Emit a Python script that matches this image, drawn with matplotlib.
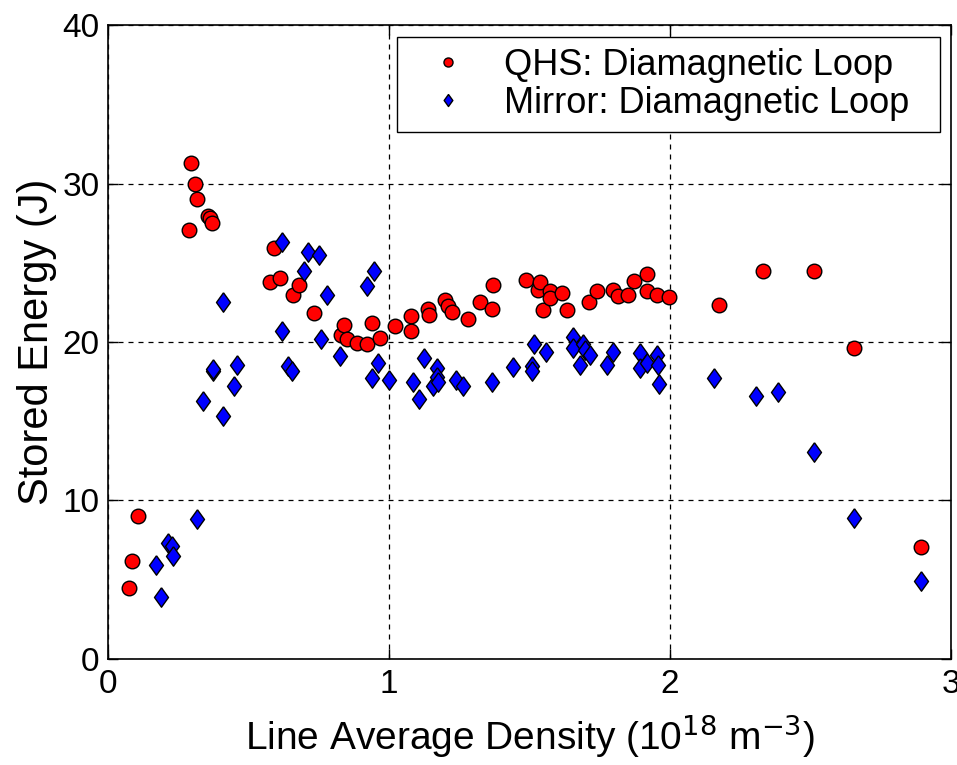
import numpy as np
import matplotlib
matplotlib.use('Agg')
import matplotlib.pyplot as plt

plt.rcParams['font.family'] = ['Liberation Sans', 'DejaVu Sans']

# QHS: diamagnetic loop
qhs_density = [0.075, 0.087, 0.108, 0.288, 0.294, 0.31, 0.316, 0.355, 0.362, 0.369,
               0.577, 0.592, 0.612, 0.657, 0.68, 0.733, 0.828, 0.84, 0.85, 0.885,
               0.92, 0.938, 0.968, 1.021, 1.08, 1.08, 1.14, 1.143, 1.2, 1.21,
               1.223, 1.282, 1.324, 1.365, 1.371, 1.486, 1.53, 1.537, 1.549, 1.573,
               1.573, 1.614, 1.632, 1.712, 1.739, 1.798, 1.816, 1.852, 1.873, 1.917,
               1.917, 1.952, 1.997, 2.176, 2.332, 2.512, 2.655, 2.893]
qhs_energy = [4.5, 6.2, 9.04, 27.07, 31.3, 30.0, 29.0, 27.95, 27.8, 27.5,
              23.8, 25.9, 24.06, 22.97, 23.6, 21.8, 20.44, 21.1, 20.2, 19.96,
              19.87, 21.2, 20.25, 21.03, 20.7, 21.66, 22.08, 21.7, 22.65, 22.3,
              21.87, 21.43, 22.54, 22.1, 23.6, 23.9, 23.3, 23.8, 22.0, 23.2,
              22.76, 23.07, 22.0, 22.5, 23.24, 23.28, 22.9, 22.96, 23.85, 24.3,
              23.24, 22.96, 22.86, 22.35, 24.49, 24.49, 19.6, 7.08]

# Mirror: diamagnetic loop
mirror_density = [0.17, 0.189, 0.215, 0.227, 0.23, 0.316, 0.337, 0.372, 0.375, 0.41,
                  0.41, 0.45, 0.458, 0.618, 0.618, 0.642, 0.654, 0.699, 0.713, 0.752,
                  0.758, 0.778, 0.826, 0.92, 0.94, 0.947, 0.962, 1.0, 1.087, 1.107,
                  1.126, 1.158, 1.17, 1.17, 1.176, 1.24, 1.264, 1.365, 1.442, 1.508,
                  1.508, 1.516, 1.558, 1.656, 1.656, 1.68, 1.691, 1.697, 1.715, 1.775,
                  1.798, 1.893, 1.893, 1.917, 1.952, 1.958, 1.96, 2.156, 2.305, 2.385,
                  2.514, 2.655, 2.893]
mirror_energy = [5.93, 3.93, 7.3, 7.1, 6.5, 8.81, 16.3, 18.2, 18.3, 22.5,
                 15.3, 17.2, 18.55, 26.3, 20.7, 18.5, 18.2, 24.5, 25.7, 25.5,
                 20.2, 22.97, 19.1, 23.55, 17.75, 24.5, 18.7, 17.6, 17.5, 16.38,
                 18.97, 17.2, 18.34, 17.8, 17.5, 17.6, 17.2, 17.5, 18.44, 18.49,
                 18.19, 19.9, 19.39, 20.33, 19.6, 18.55, 19.87, 19.5, 19.18, 18.55,
                 19.39, 19.29, 18.34, 18.66, 19.18, 18.55, 17.35, 17.7, 16.6, 16.85,
                 13.07, 8.9, 4.92]

x_ticks = [0, 1, 2, 3]
y_ticks = [0, 10, 20, 30, 40]

# MATLAB-like diamond, a bit wider than matplotlib's 'd'
diamond = [(0, 1), (0.72, 0), (0, -1), (-0.72, 0), (0, 1)]

fig = plt.figure(figsize=(9.57, 7.65), dpi=100)
ax = fig.add_axes([0.1129, 0.1386, 0.8808, 0.8287])

ax.plot(qhs_density, qhs_energy, 'o', color='red', markeredgecolor='black',
        markeredgewidth=1.0, markersize=10.5, label='QHS: Diamagnetic Loop  ')
ax.plot(mirror_density, mirror_energy, marker=diamond, linestyle='none', color='blue',
        markeredgecolor='black', markeredgewidth=1.0, markersize=14,
        label='Mirror: Diamagnetic Loop  ')

ax.set_xlim(0, 3)
ax.set_ylim(0, 40)
ax.set_xticks(x_ticks)
ax.set_yticks(y_ticks)
ax.grid(True, color='black', linestyle=(0, (4, 4)), linewidth=0.9)
ax.tick_params(direction='in', top=True, right=True, labelsize=24, length=7, width=1)
ax.tick_params(axis='y', pad=6)
ax.tick_params(axis='x', pad=7)
for s in ax.spines.values():
    s.set_linewidth(1.2)

ax.set_xlabel('Line Average Density (10$^{18}$ m$^{-3}$)', fontsize=28, labelpad=9)
ax.set_ylabel('Stored Energy (J)', fontsize=30, labelpad=4)

leg = ax.legend(loc='upper right', fontsize=26, frameon=True, fancybox=False,
                framealpha=1, edgecolor='black', markerscale=0.62,
                bbox_to_anchor=(0.987, 0.981), handletextpad=0.45, borderpad=0.3,
                labelspacing=0.08, handlelength=2.2, borderaxespad=0)
leg.get_frame().set_linewidth(1.0)

fig.savefig('out.png', dpi=100)
